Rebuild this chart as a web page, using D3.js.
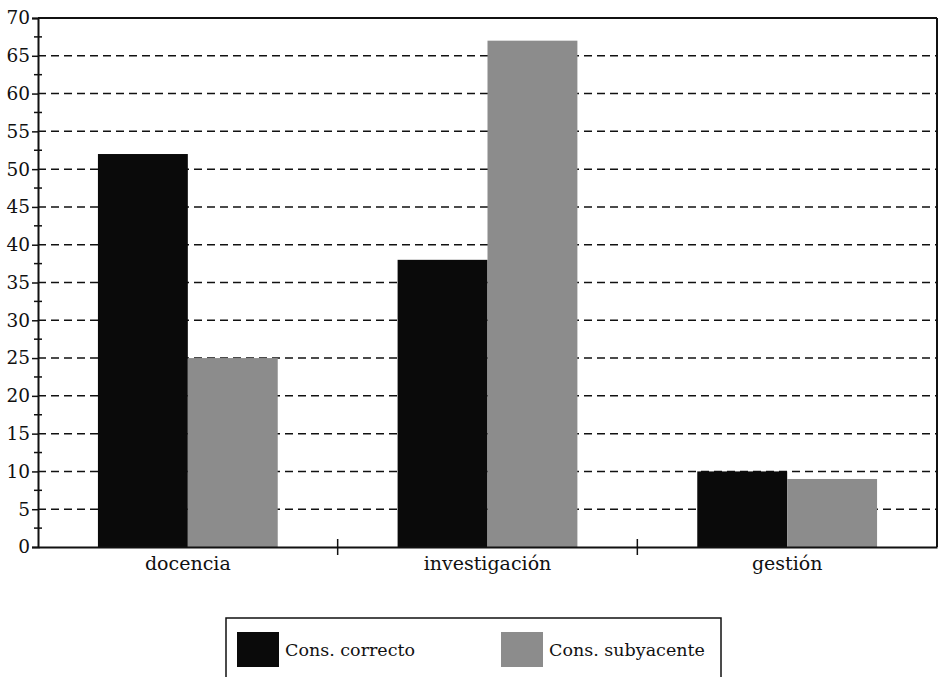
<!DOCTYPE html>
<html><head><meta charset="utf-8">
<script src="https://cdn.jsdelivr.net/npm/d3@7"></script>
<style>body{margin:0;background:#fff;} text{font-family:"DejaVu Serif","Liberation Serif",serif;fill:#111;}</style>
</head><body>
<svg id="c" width="943" height="677"></svg>
<script>
const categories = ["docencia", "investigación", "gestión"];
const seriesNames = ["Cons. correcto", "Cons. subyacente"];
const consCorrecto = [52, 38, 10];
const consSubyacente = [25, 67, 9];
const yTicks = [0,5,10,15,20,25,30,35,40,45,50,55,60,65,70];
const colors = ["#0a0a0a", "#8c8c8c"];

const svg = d3.select("#c");
const m = {l:38, r:937, t:18, b:547};
const x = d3.scaleBand().domain(categories).range([m.l, m.r]).paddingInner(0).paddingOuter(0);
const xs = d3.scaleBand().domain(seriesNames).range([0, x.bandwidth()]).paddingInner(0).paddingOuter(2/3);
const y = d3.scaleLinear().domain([0,70]).range([m.b, m.t]);

// grid
svg.append("g").selectAll("line").data(yTicks.filter(v=>v>0 && v<70)).join("line")
  .attr("x1", m.l).attr("x2", m.r).attr("y1", d=>y(d)).attr("y2", d=>y(d))
  .attr("stroke", "#111").attr("stroke-width", 1.5).attr("stroke-dasharray", "8,5");

// bars
const data = categories.map((c,i)=>({c, vals:[consCorrecto[i], consSubyacente[i]]}));
const g = svg.append("g").selectAll("g").data(data).join("g")
  .attr("transform", d=>`translate(${x(d.c)},0)`);
g.selectAll("rect").data(d=>d.vals.map((v,j)=>({v,j}))).join("rect")
  .attr("x", d=>xs(seriesNames[d.j])).attr("width", xs.bandwidth())
  .attr("y", d=>y(d.v)).attr("height", d=>m.b - y(d.v))
  .attr("fill", d=>colors[d.j]);

// frame: top and right
svg.append("line").attr("x1", m.l).attr("x2", m.r).attr("y1", m.t).attr("y2", m.t).attr("stroke","#111").attr("stroke-width",2);
svg.append("line").attr("x1", m.r).attr("x2", m.r).attr("y1", m.t).attr("y2", m.b).attr("stroke","#111").attr("stroke-width",2);

// y axis
const ya = svg.append("g").attr("transform", `translate(${m.l},0)`)
  .call(d3.axisLeft(y).tickValues(yTicks).tickSize(6).tickPadding(2).tickFormat(d3.format("d")));
ya.select(".domain").attr("stroke","#111").attr("stroke-width",2);
ya.selectAll(".tick line").attr("stroke","#111").attr("stroke-width",1.5);
ya.selectAll("text").style("font-size","18.5px").attr("fill","#111");
// minor ticks
const minor = d3.range(2.5, 70, 5);
svg.append("g").selectAll("line").data(minor).join("line")
  .attr("x1", m.l-4).attr("x2", m.l+4).attr("y1", d=>y(d)).attr("y2", d=>y(d))
  .attr("stroke","#111").attr("stroke-width",1.5);

// x axis
const xa = svg.append("g").attr("transform", `translate(0,${m.b})`)
  .call(d3.axisBottom(x).tickSize(0).tickPadding(10));
xa.select(".domain").attr("stroke","#111").attr("stroke-width",2);
xa.selectAll("text").style("font-size","19px").attr("fill","#111");
// category separators
svg.append("g").selectAll("line").data(categories.slice(1)).join("line")
  .attr("x1", d=>x(d)).attr("x2", d=>x(d)).attr("y1", m.b-8).attr("y2", m.b+8)
  .attr("stroke","#111").attr("stroke-width",1.5);

// legend
const lg = svg.append("g");
lg.append("rect").attr("x",226).attr("y",618).attr("width",495).attr("height",80)
  .attr("fill","none").attr("stroke","#111").attr("stroke-width",1.5);
const lx = [237, 501];
seriesNames.forEach((s,i)=>{
  lg.append("rect").attr("x",lx[i]).attr("y",632).attr("width",42).attr("height",35).attr("fill",colors[i]);
  lg.append("text").attr("x",lx[i]+48).attr("y",656).text(s).style("font-size","17.5px");
});
</script>
</body></html>
